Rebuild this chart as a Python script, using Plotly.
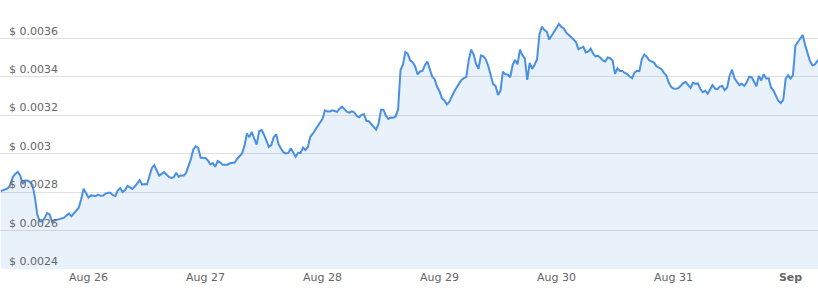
import pandas as pd
import plotly.graph_objects as go

# 30-minute price samples starting 2023-08-25 06:00 (USD)
start_time = "2023-08-25 06:00"
price = [
    0.002805, 0.002810, 0.002816, 0.002821, 0.002839, 0.002880, 0.002895, 0.002906, 0.002886, 0.002843,
    0.002860, 0.002860, 0.002852, 0.002839, 0.002774, 0.002682, 0.002648, 0.002647, 0.002665, 0.002691,
    0.002685, 0.002648, 0.002652, 0.002655, 0.002660, 0.002662, 0.002667, 0.002679, 0.002688, 0.002675,
    0.002691, 0.002705, 0.002719, 0.002763, 0.002818, 0.002795, 0.002771, 0.002783, 0.002783, 0.002780,
    0.002787, 0.002781, 0.002782, 0.002792, 0.002797, 0.002797, 0.002784, 0.002780, 0.002808, 0.002821,
    0.002801, 0.002811, 0.002832, 0.002826, 0.002817, 0.002829, 0.002846, 0.002863, 0.002839, 0.002842,
    0.002840, 0.002879, 0.002926, 0.002941, 0.002917, 0.002886, 0.002895, 0.002904, 0.002892, 0.002879,
    0.002874, 0.002878, 0.002901, 0.002880, 0.002888, 0.002886, 0.002899, 0.002931, 0.002972, 0.003022,
    0.003039, 0.003031, 0.002980, 0.002978, 0.002978, 0.002965, 0.002944, 0.002951, 0.002932, 0.002962,
    0.002955, 0.002943, 0.002943, 0.002943, 0.002950, 0.002954, 0.002954, 0.002974, 0.002990, 0.003001,
    0.003042, 0.003105, 0.003086, 0.003114, 0.003078, 0.003047, 0.003116, 0.003124, 0.003099, 0.003068,
    0.003035, 0.003045, 0.003087, 0.003101, 0.003048, 0.003026, 0.003007, 0.003001, 0.003004, 0.003028,
    0.003004, 0.002984, 0.003005, 0.003004, 0.003031, 0.003019, 0.003035, 0.003088, 0.003104, 0.003122,
    0.003140, 0.003160, 0.003182, 0.003226, 0.003220, 0.003220, 0.003226, 0.003222, 0.003218, 0.003234,
    0.003245, 0.003232, 0.003219, 0.003214, 0.003221, 0.003216, 0.003197, 0.003190, 0.003202, 0.003206,
    0.003171, 0.003169, 0.003154, 0.003136, 0.003125, 0.003156, 0.003229, 0.003229, 0.003198, 0.003181,
    0.003188, 0.003187, 0.003194, 0.003229, 0.003436, 0.003463, 0.003529, 0.003520, 0.003485, 0.003476,
    0.003454, 0.003413, 0.003428, 0.003431, 0.003461, 0.003480, 0.003437, 0.003401, 0.003388, 0.003348,
    0.003325, 0.003288, 0.003277, 0.003257, 0.003270, 0.003300, 0.003322, 0.003344, 0.003366, 0.003384,
    0.003393, 0.003400, 0.003488, 0.003542, 0.003516, 0.003468, 0.003442, 0.003512, 0.003507, 0.003491,
    0.003456, 0.003408, 0.003362, 0.003353, 0.003306, 0.003327, 0.003427, 0.003413, 0.003412, 0.003398,
    0.003462, 0.003488, 0.003465, 0.003542, 0.003513, 0.003496, 0.003384, 0.003473, 0.003441, 0.003463,
    0.003491, 0.003621, 0.003661, 0.003644, 0.003635, 0.003594, 0.003614, 0.003634, 0.003649, 0.003675,
    0.003660, 0.003652, 0.003630, 0.003619, 0.003605, 0.003595, 0.003580, 0.003544, 0.003551, 0.003556,
    0.003527, 0.003531, 0.003547, 0.003521, 0.003507, 0.003510, 0.003499, 0.003486, 0.003480, 0.003501,
    0.003497, 0.003485, 0.003416, 0.003444, 0.003430, 0.003430, 0.003420, 0.003414, 0.003402, 0.003393,
    0.003422, 0.003432, 0.003430, 0.003493, 0.003516, 0.003505, 0.003486, 0.003480, 0.003474, 0.003455,
    0.003450, 0.003441, 0.003422, 0.003408, 0.003372, 0.003348, 0.003339, 0.003338, 0.003341, 0.003354,
    0.003367, 0.003373, 0.003357, 0.003343, 0.003369, 0.003364, 0.003366, 0.003338, 0.003320, 0.003328,
    0.003312, 0.003333, 0.003357, 0.003339, 0.003336, 0.003349, 0.003353, 0.003331, 0.003345, 0.003406,
    0.003437, 0.003392, 0.003373, 0.003357, 0.003364, 0.003353, 0.003370, 0.003400, 0.003399, 0.003372,
    0.003351, 0.003405, 0.003381, 0.003414, 0.003392, 0.003393, 0.003345, 0.003329, 0.003306, 0.003275,
    0.003264, 0.003279, 0.003390, 0.003408, 0.003391, 0.003409, 0.003563, 0.003583, 0.003602, 0.003618,
    0.003565, 0.003523, 0.003481, 0.003460, 0.003465, 0.003483, 0.003494,
]
times = pd.date_range(start_time, periods=len(price), freq="30min")

x_tick_vals = ["2023-08-26", "2023-08-27", "2023-08-28", "2023-08-29",
               "2023-08-30", "2023-08-31", "2023-09-01"]
x_tick_text = ["Aug 26", "Aug 27", "Aug 28", "Aug 29", "Aug 30", "Aug 31", "<b>Sep</b>"]

y_tick_vals = [0.0024, 0.0026, 0.0028, 0.003, 0.0032, 0.0034, 0.0036, 0.0038]
y_tick_text = ["$ 0.0024", "$ 0.0026", "$ 0.0028", "$ 0.003", "$ 0.0032",
               "$ 0.0034", "$ 0.0036", ""]

fig = go.Figure()
fig.add_trace(go.Scatter(
    x=times, y=price, mode="lines",
    line=dict(color="#4a90e2", width=2),
    fill="tozeroy", fillcolor="rgba(74,144,226,0.12)",
    hoverinfo="skip", showlegend=False,
))

font = dict(family="DejaVu Sans, Verdana, sans-serif", size=11, color="#666666")

fig.update_layout(
    width=818, height=304,
    margin=dict(l=0, r=0, t=0, b=35),
    paper_bgcolor="white", plot_bgcolor="white",
    showlegend=False,
    font=font,
    xaxis=dict(
        range=["2023-08-25 05:51", "2023-09-01 05:38"],
        tickmode="array", tickvals=x_tick_vals, ticktext=x_tick_text,
        showgrid=False, zeroline=False, showline=False, ticks="",
        tickfont=font,
    ),
    yaxis=dict(
        range=[0.0024, 0.0038],
        tickmode="array", tickvals=y_tick_vals, ticktext=y_tick_text,
        showgrid=True, gridcolor="#e0e0e0", gridwidth=1,
        zeroline=False, showline=False, ticks="",
        ticklabelposition="inside top", ticklabelstandoff=6,
        tickfont=font,
    ),
)

fig.write_html("out.html")
